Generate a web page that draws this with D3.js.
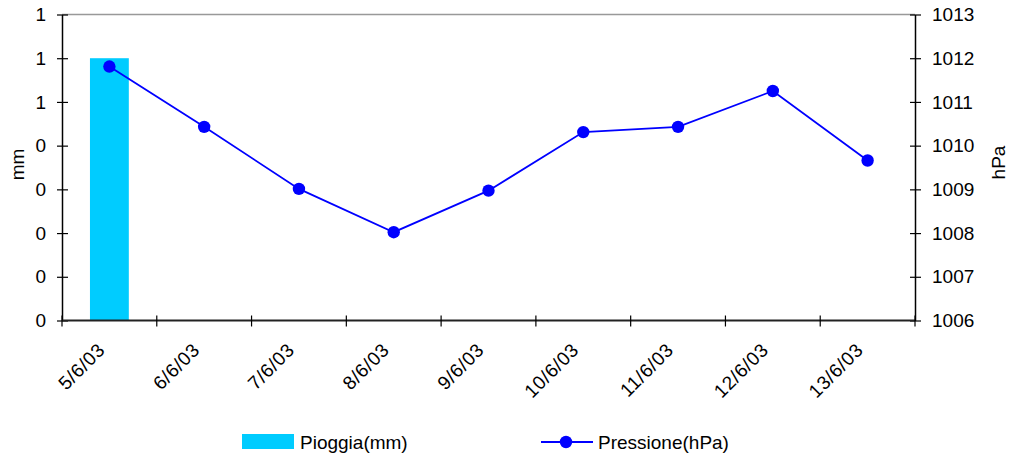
<!DOCTYPE html>
<html><head><meta charset="utf-8">
<script src="https://cdn.jsdelivr.net/npm/d3@7"></script>
<style>body{margin:0;background:#fff;} text{font-family:"Liberation Sans",Arial,sans-serif;fill:#000;}</style>
</head><body><svg id="c" width="1012" height="460"></svg>
<script>
const categories = ["5/6/03","6/6/03","7/6/03","8/6/03","9/6/03","10/6/03","11/6/03","12/6/03","13/6/03"];
const rain = [0.6, 0, 0, 0, 0, 0, 0, 0, 0];
const pressure = [1011.81, 1010.43, 1009.01, 1008.02, 1008.97, 1010.31, 1010.43, 1011.25, 1009.66];
const leftTicks = [0, 0.1, 0.2, 0.3, 0.4, 0.5, 0.6, 0.7];
const rightTicks = [1006, 1007, 1008, 1009, 1010, 1011, 1012, 1013];

const svg = d3.select("#c");
const L = 62, R = 915, T = 14.5, B = 320.5;
const fs = 19;
const x = d3.scaleBand().domain(categories).range([L, R]).paddingInner(0).paddingOuter(0);
const yL = d3.scaleLinear().domain([0, 0.7]).range([B, T]);
const yR = d3.scaleLinear().domain([1006, 1013]).range([B, T]);

// top border
svg.append("line").attr("x1", L).attr("x2", R).attr("y1", T).attr("y2", T).attr("stroke", "#999").attr("stroke-width", 1.5);

// bars
const bw = x.bandwidth() * 0.41;
svg.selectAll("rect.bar").data(categories.map((c, i) => ({c, v: rain[i]})).filter(d => d.v > 0))
  .enter().append("rect")
  .attr("x", d => x(d.c) + (x.bandwidth() - bw) / 2)
  .attr("width", bw)
  .attr("y", d => yL(d.v))
  .attr("height", d => yL(0) - yL(d.v))
  .attr("fill", "#00CCFF");

// left axis
const gL = svg.append("g").attr("transform", `translate(${L},0)`)
  .call(d3.axisLeft(yL).tickValues(leftTicks).tickSize(0).tickFormat(d => Math.round(d + 1e-9)));
gL.select(".domain").attr("stroke", "#000").attr("stroke-width", 1.5);
gL.selectAll(".tick line").remove();
gL.selectAll(".tick").append("line").attr("x1", -5).attr("x2", 6).attr("stroke", "#000").attr("stroke-width", 1.2);
gL.selectAll(".tick text").attr("x", -16).attr("font-size", fs).attr("font-family", "Liberation Sans, Arial, sans-serif");

// right axis
const gR = svg.append("g").attr("transform", `translate(${R},0)`)
  .call(d3.axisRight(yR).tickValues(rightTicks).tickSize(0).tickFormat(d3.format("d")));
gR.select(".domain").attr("stroke", "#000").attr("stroke-width", 1.5);
gR.selectAll(".tick line").remove();
gR.selectAll(".tick").append("line").attr("x1", -5).attr("x2", 6).attr("stroke", "#000").attr("stroke-width", 1.2);
gR.selectAll(".tick text").attr("x", 17).attr("font-size", fs).attr("font-family", "Liberation Sans, Arial, sans-serif");

// bottom axis
const tickPos = categories.map(c => x(c)).concat([R]);
svg.append("line").attr("x1", L).attr("x2", R).attr("y1", B).attr("y2", B).attr("stroke", "#222").attr("stroke-width", 2);
svg.selectAll("line.xt").data(tickPos).enter().append("line")
  .attr("x1", d => d).attr("x2", d => d).attr("y1", B - 5).attr("y2", B + 6)
  .attr("stroke", "#000").attr("stroke-width", 1.2);
svg.selectAll("text.xl").data(categories).enter().append("text")
  .attr("transform", d => `translate(${x(d) + x.bandwidth() / 2 - 8},${B + 26}) rotate(-45)`)
  .attr("text-anchor", "end").attr("dy", "0.35em").attr("font-size", fs).attr("letter-spacing", "0.6px")
  .text(d => d);

// line series
const line = d3.line().x((d, i) => x(categories[i]) + x.bandwidth() / 2).y(d => yR(d));
svg.append("path").datum(pressure).attr("d", line).attr("fill", "none").attr("stroke", "#0000FF").attr("stroke-width", 1.8);
svg.selectAll("circle.pt").data(pressure).enter().append("circle")
  .attr("cx", (d, i) => x(categories[i]) + x.bandwidth() / 2).attr("cy", d => yR(d)).attr("r", 6.2).attr("fill", "#0000FF");

// axis titles
svg.append("text").attr("transform", `translate(24,${(T + B) / 2 - 3}) rotate(-90)`).attr("text-anchor", "middle").attr("font-size", fs).text("mm");
svg.append("text").attr("transform", `translate(1005,${(T + B) / 2 - 5}) rotate(-90)`).attr("text-anchor", "middle").attr("font-size", fs).text("hPa");

// legend
svg.append("rect").attr("x", 242).attr("y", 434).attr("width", 52).attr("height", 15).attr("fill", "#00CCFF");
svg.append("text").attr("x", 300).attr("y", 442).attr("dy", "0.35em").attr("font-size", fs).text("Pioggia(mm)");
svg.append("line").attr("x1", 541).attr("x2", 593).attr("y1", 442).attr("y2", 442).attr("stroke", "#0000FF").attr("stroke-width", 1.8);
svg.append("circle").attr("cx", 566).attr("cy", 442).attr("r", 6.2).attr("fill", "#0000FF");
svg.append("text").attr("x", 598).attr("y", 442).attr("dy", "0.35em").attr("font-size", fs).text("Pressione(hPa)");
</script></body></html>
